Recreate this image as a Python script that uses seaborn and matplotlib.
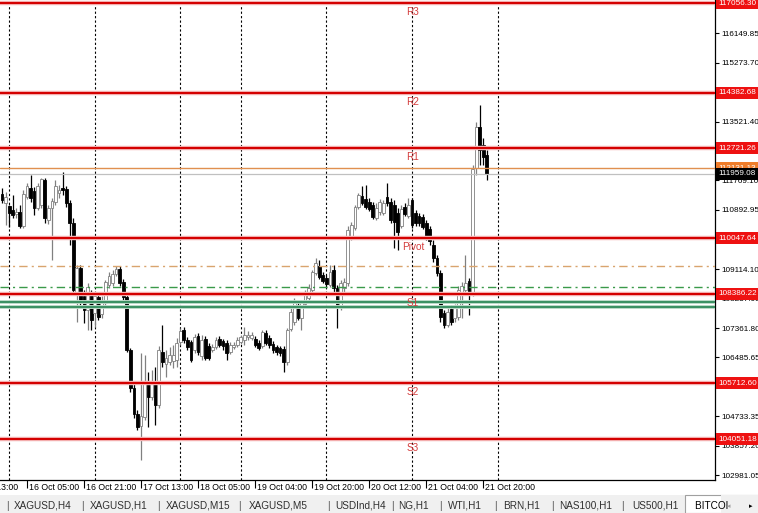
import numpy as np
import pandas as pd
import matplotlib
matplotlib.use("Agg")
import matplotlib.pyplot as plt
import matplotlib.transforms as mtrans
from matplotlib.patches import Rectangle
import seaborn as sns

# ---------------- data ----------------
opens = [111361, 111093, 111003, 110884, 110765, 110824, 110407, 111271, 111539, 111450,
         110943, 111033, 111778, 110586, 110943, 111122, 111391, 111539, 111510, 111093,
         110497, 108438, 109155, 108319, 107902, 108409, 107813, 108289, 107783, 108111,
         108647, 108707, 108975, 109125, 108736, 108289, 106709, 105576, 104801, 104443,
         104712, 105784, 105307, 105725, 105069, 106649, 106292, 106351, 106381, 106411,
         106947, 107305, 107007, 106947, 106709, 107126, 106530, 107037, 106828, 106709,
         106798, 107037, 106977, 106918, 106649, 106798, 106858, 106947, 107007, 107097,
         107067, 107037, 106918, 106828, 107216, 107067, 106888, 106798, 106768, 106739,
         106351, 107335, 107544, 108051, 107664, 108081, 108259, 108498, 109005, 109214,
         108945, 108856, 108647, 109095, 108557, 107991, 108557, 108707, 110079, 110347,
         110973, 111301, 111212, 111122, 111033, 110645, 110824, 110795, 111271, 111122,
         111033, 110795, 110407, 110973, 110705, 111182, 110795, 110705, 110675, 110497,
         110317, 109840, 109453, 109005, 107813, 107455, 107932, 107664, 107693, 108438,
         108498, 108766, 108409, 112137, 113359, 112822, 112524]
highs = [111539, 111420, 111033, 111331, 110943, 111033, 111480, 111689, 111927, 111569,
         111689, 111838, 111838, 111033, 111242, 111778, 111629, 112017, 111599, 111182,
         110645, 109244, 109244, 108498, 108707, 108498, 108438, 108409, 108319, 108796,
         109035, 109095, 109214, 109214, 108826, 108409, 106768, 105695, 104920, 106620,
         106560, 106053, 106113, 106202, 106828, 107455, 106709, 106798, 106858, 107067,
         107365, 107395, 107097, 107007, 107186, 107216, 107156, 107126, 106918, 106888,
         107097, 107126, 107037, 107007, 106947, 106947, 107097, 107156, 107395, 107276,
         107246, 107126, 107007, 107305, 107305, 107156, 106977, 106858, 106828, 106828,
         107365, 107961, 108259, 108140, 108200, 108498, 108677, 109095, 109453, 109393,
         109035, 108945, 109244, 109244, 108647, 108796, 108856, 110407, 110526, 111033,
         111391, 111599, 111629, 111242, 111122, 111093, 111212, 111182, 111689, 111242,
         111182, 110943, 111033, 111093, 111242, 111242, 110884, 110795, 110765, 110586,
         110407, 109989, 109542, 109095, 107902, 107961, 108051, 108081, 108617, 108736,
         109542, 108856, 112226, 113508, 114015, 113031, 112673]
lows = [111093, 110437, 110377, 110645, 110645, 110347, 110347, 111212, 111122, 110735,
        110884, 110943, 110497, 110467, 109393, 111033, 111242, 111331, 110973, 109840,
        108349, 107544, 108051, 107515, 107305, 107305, 107395, 107604, 107664, 108021,
        108557, 108617, 108915, 108617, 108200, 106649, 105456, 104682, 104323, 103429,
        104622, 104413, 105218, 104473, 104980, 106202, 105904, 106262, 106172, 106202,
        106858, 106918, 106709, 106351, 106620, 106560, 106411, 106411, 106411, 106649,
        106739, 106798, 106709, 106411, 106590, 106739, 106798, 106888, 106858, 107007,
        107007, 106798, 106709, 106768, 106858, 106768, 106620, 106560, 106530, 106053,
        106262, 107276, 107455, 107604, 107305, 107991, 108200, 108438, 108945, 108826,
        108707, 108587, 108587, 108438, 107365, 107902, 108349, 108617, 109989, 110287,
        110914, 111033, 110914, 110854, 110616, 110586, 110735, 110735, 111003, 110497,
        109750, 109691, 110347, 110705, 110645, 110347, 110407, 110407, 110317, 109989,
        109840, 109333, 108915, 107544, 107365, 107395, 107455, 107544, 107604, 107664,
        108409, 107753, 108319, 111927, 112226, 112226, 111778]
closes = [111182, 111271, 110795, 110735, 110824, 110407, 111361, 111599, 111242, 110943,
          111599, 111808, 110645, 110943, 111152, 111599, 111480, 111480, 111093, 110497,
          108498, 109155, 108200, 107902, 108587, 107604, 108319, 107693, 108140, 108736,
          108915, 108975, 109125, 108707, 108289, 106709, 105576, 104801, 104413, 104741,
          105755, 105307, 105695, 105069, 106709, 106351, 106470, 106560, 106560, 106918,
          107276, 107007, 106798, 106411, 107097, 106649, 107007, 106470, 106470, 106798,
          107007, 106858, 106828, 106620, 106858, 106858, 107007, 107097, 107156, 107156,
          107156, 106858, 106768, 107246, 106918, 106858, 106709, 106649, 106620, 106351,
          107305, 107842, 108111, 107664, 108140, 108438, 108557, 109035, 109304, 108885,
          108766, 108677, 109035, 108557, 107991, 108707, 108736, 110287, 110437, 110973,
          111331, 111093, 110973, 110914, 110675, 110943, 111122, 111093, 111093, 110586,
          110526, 110228, 110914, 110765, 111033, 110437, 110497, 110497, 110377, 110079,
          109959, 109453, 109005, 107693, 107455, 107842, 107544, 107961, 108498, 108617,
          108707, 108409, 112107, 113359, 112673, 112464, 111959]

level_names = ["R3", "R2", "R1", "Pivot", "S1", "S2", "S3"]
level_values = [117056.30, 114382.68, 112721.26, 110047.64, 108386.22, 105712.60, 104051.18]

ask_price = 112131.13
bid_price = 111959.08
orange_dashdot_level = 109214.0
green_dashdot_level = 108588.0
green_levels = [108155.0, 107991.0]

axis_ticks = [116149.85, 115273.70, 113521.40, 112645.25, 111769.10,
              110892.95, 109114.10, 108237.95, 107361.80, 106485.65,
              105609.50, 104733.35, 103857.20, 102981.05]

time_labels = ["15 Oct 13:00", "16 Oct 05:00", "16 Oct 21:00", "17 Oct 13:00",
               "18 Oct 05:00", "19 Oct 04:00", "19 Oct 20:00", "20 Oct 12:00",
               "21 Oct 04:00", "21 Oct 20:00"]
time_label_bars = [-10, 7, 23, 39, 55, 71, 87, 103, 119, 135]
day_separator_bars = [2, 26, 50, 67, 91, 115, 139]

tab_names = ["XAGUSD,H4", "XAGUSD,H1", "XAGUSD,M15", "XAGUSD,M5", "USDInd,H4",
             "NG,H1", "WTI,H1", "BRN,H1", "NAS100,H1", "US500,H1"]
active_tab = "BITCOIN"

# ---------------- figure ----------------
sns.set_style("white")
plt.rcParams["font.family"] = ["Liberation Sans", "DejaVu Sans"]

W, H = 758, 513
fig = plt.figure(figsize=(W / 100, H / 100), dpi=100)
fig.patch.set_facecolor("white")
ax = fig.add_axes([0, 1 - 480 / H, 715 / W, 480 / H])
ax.set_facecolor("white")

n = len(opens)
df = pd.DataFrame({"bar": np.arange(n), "open": opens, "high": highs,
                   "low": lows, "close": closes})
df["bull"] = df["close"] >= df["open"]

ax.set_xlim(-0.56, 200.0)
ax.set_ylim(102832, 117146)

# vertical day separators (grid)
ax.vlines(day_separator_bars, 102832, 117146, colors="black", lw=0.8,
          linestyles=(0, (2, 2)), zorder=1)

# candles
wick_col = np.where(df["bull"], "#808080", "#000000")
ax.vlines(df["bar"], df["low"], df["high"], colors=wick_col, lw=0.9, zorder=3)
body_bottom = np.minimum(df["open"], df["close"])
body_h = np.maximum((df["close"] - df["open"]).abs(), 28)
ax.bar(df["bar"], body_h, bottom=body_bottom, width=0.78,
       color=np.where(df["bull"], "white", "black"),
       edgecolor=np.where(df["bull"], "#808080", "black"), linewidth=0.6, zorder=4)

# pivot levels via seaborn
xl = ax.get_xlim()
lv = pd.DataFrame({"level": np.repeat(level_names, 2),
                   "bar": np.tile(xl, len(level_names)),
                   "price": np.repeat(level_values, 2)})
sns.lineplot(data=lv, x="bar", y="price", units="level", estimator=None,
             color="#f5b5b5", lw=3.2, ax=ax, legend=False, zorder=5)
sns.lineplot(data=lv, x="bar", y="price", units="level", estimator=None,
             color="#d40000", lw=1.5, ax=ax, legend=False, zorder=6)

for g in green_levels:
    ax.axhline(g, color="#b9d9c6", lw=2.8, zorder=5)
    ax.axhline(g, color="#2f8a5a", lw=1.3, zorder=6)

ax.axhline(orange_dashdot_level, color="#d9a46e", lw=1.0,
           linestyle=(0, (6, 3, 1.5, 3)), zorder=5)
ax.axhline(green_dashdot_level, color="#3a9a4a", lw=1.0,
           linestyle=(0, (6, 3, 1.5, 3)), zorder=5)
ax.axhline(ask_price, color="#e09050", lw=1.0, zorder=5)
ax.axhline(bid_price, color="#c0c0c0", lw=0.9, zorder=5)

# level labels
label_bar = 115.3
for name, val in zip(level_names, level_values):
    ax.annotate(name, xy=(label_bar, val), xytext=(0, -4), textcoords="offset pixels",
                ha="center", va="top", fontsize=7.2, color="#d43c3c", zorder=7)

ax.set_xlabel("")
ax.set_ylabel("")

# right axis
ax.yaxis.tick_right()
ax.set_yticks(axis_ticks)
ax.set_yticklabels([f"{v:.2f}" for v in axis_ticks])
ax.tick_params(axis="y", right=True, left=False, length=3, width=0.8, pad=1.5,
               labelsize=5.9, colors="black", direction="out")
ax.tick_params(axis="x", bottom=True, length=6, width=0.8, direction="out",
               labelbottom=False, colors="black")
ax.set_xticks([b for b in time_label_bars if b >= 0])

for s in ["left", "top"]:
    ax.spines[s].set_visible(False)
for s in ["right", "bottom"]:
    ax.spines[s].set_visible(True)
    ax.spines[s].set_color("black")
    ax.spines[s].set_linewidth(0.9)

# right-side price boxes
ytrans = mtrans.blended_transform_factory(ax.transAxes, ax.transData)
box_trans = mtrans.offset_copy(ytrans, fig=fig, x=3, y=0, units="dots")
boxes = [(v, "#ee1111", "white") for v in level_values]
boxes += [(ask_price, "#f07d2a", "white"), (bid_price, "black", "white")]
for i, (v, fc, tc) in enumerate(boxes):
    ax.text(1.0, v, f"{v:.2f}", transform=box_trans, ha="left", va="center",
            fontsize=5.9, color=tc, clip_on=False, zorder=10 + i,
            bbox=dict(boxstyle="square,pad=0.3", fc=fc, ec="none"))

# time labels
xtrans = mtrans.blended_transform_factory(ax.transData, ax.transAxes)
lab_trans = mtrans.offset_copy(xtrans, fig=fig, x=2, y=-3, units="dots")
for lab, b in zip(time_labels, time_label_bars):
    ax.text(b, 0, lab, transform=lab_trans, ha="left", va="top", fontsize=6.3,
            color="black", clip_on=False)

# tab bar
fig.patches.append(Rectangle((0, 0), 1, 18 / H, transform=fig.transFigure,
                             fc="#f0f0f0", ec="none", zorder=0))
fig.patches.append(Rectangle((685 / W, 0), (W - 685) / W, 18 / H,
                             transform=fig.transFigure, fc="white",
                             ec="#a0a0a0", lw=0.8, zorder=1))
tab_x = [14, 90, 166, 249, 335, 398, 448, 503, 559, 632]
sep_x = [7, 82, 158, 239, 328, 392, 440, 495, 552, 622]
for t, x in zip(tab_names, tab_x):
    fig.text(x / W, 7 / H, t, fontsize=7.2, color="#303030", ha="left",
             va="center", zorder=3)
for x in sep_x:
    fig.text(x / W, 7 / H, "|", fontsize=7.5, color="#606060", ha="center",
             va="center", zorder=3)
fig.text(695 / W, 7 / H, active_tab[:-1] + "\u2009", fontsize=7.2, color="black",
         ha="left", va="center", zorder=3)
fig.patches.append(Rectangle((721 / W, 0), 37 / W, 18 / H, transform=fig.transFigure,
                             fc="#f0f0f0", ec="none", zorder=2))
fig.text(729 / W, 7 / H, "\u25C2", fontsize=5, color="#a0a0a0", ha="center",
         va="center", zorder=3, family="DejaVu Sans")
fig.text(751 / W, 7 / H, "\u25B8", fontsize=5, color="black", ha="center",
         va="center", zorder=3, family="DejaVu Sans")

fig.savefig("out.png", dpi=100)
